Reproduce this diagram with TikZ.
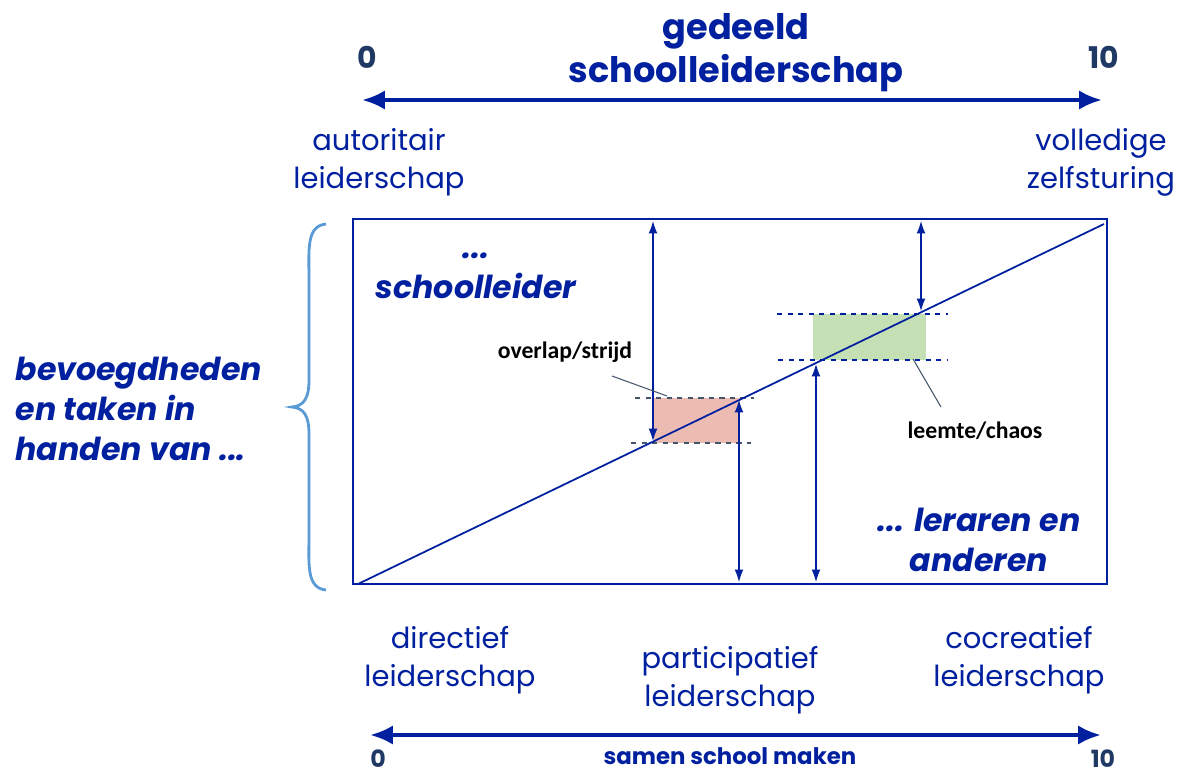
\documentclass[tikz,border=0pt]{standalone}
\usepackage{fontspec}
\setmainfont{Poppins}
\newfontfamily\calfont{Carlito}
\usepackage{tikz}
\usetikzlibrary{arrows,arrows.meta}
\definecolor{schoolblue}{RGB}{0,32,159}
\definecolor{numgray}{RGB}{31,56,100}
\definecolor{bracelight}{RGB}{91,155,213}
\definecolor{overlapred}{RGB}{236,188,178}
\definecolor{gapgreen}{RGB}{198,224,182}
\definecolor{leadergray}{RGB}{68,84,106}

\begin{document}
\begin{tikzpicture}[x=0.02cm, y=-0.02cm, thick,
  title/.style={color=schoolblue, font=\fontsize{20}{24.5}\selectfont\bfseries, align=center},
  pole/.style={color=schoolblue, font=\fontsize{16.5}{21.5}\selectfont, align=center},
  actor/.style={color=schoolblue, font=\fontsize{18}{23}\selectfont\bfseries\itshape, align=center},
  num/.style={color=numgray, font=\fontsize{17}{20}\selectfont\bfseries},
  smallnum/.style={color=numgray, font=\fontsize{13.5}{15}\selectfont\bfseries, inner sep=1pt},
  callout/.style={font=\calfont\fontsize{13.5}{16}\selectfont\bfseries},
  axisarrow/.style={{Latex[length=13pt,width=11pt]}-{Latex[length=13pt,width=11pt]}, color=schoolblue, line width=2.4pt},
  maat/.style={{Latex[length=7pt,width=5pt]}-{Latex[length=7pt,width=5pt]}, color=schoolblue, line width=0.7pt},
  guide/.style={dashed, line width=0.7pt}]
\useasboundingbox (0,0) rectangle (1181,774);

%%%%% Top axis %%%%%
\coordinate (topL) at (362,100);
\coordinate (topR) at (1102,100);
\draw[axisarrow] (topL) -- (topR);
\node[num] (top0) at (367,57) {0};
\node[num] (top10) at (1104,57) {10};
\node[title] (gedeeld) at (736,53) {gedeeld\\schoolleiderschap};
\node[pole] (autoritair) at (379,162) {autoritair\\leiderschap};
\node[pole] (zelfsturing) at (1101,162) {volledige\\zelfsturing};

%%%%% Box and diagonal %%%%%
\draw[color=schoolblue, line width=1.2pt] (353,219) rectangle (1107,584);
\fill[overlapred] (654,398) rectangle (740,443);
\fill[gapgreen] (813,314) rectangle (926,360);
\draw[guide, color=leadergray] (635,398) -- (754,398);
\draw[guide, color=leadergray] (631,443) -- (751,443);
\draw[guide, color=schoolblue] (777,314) -- (948,314);
\draw[guide, color=schoolblue] (778,360) -- (947,360);
\coordinate (ll) at (358,584);
\coordinate (ur) at (1104,224);
\draw[color=schoolblue, line width=1pt] (ll) -- (ur);
\foreach \n/\x/\ya/\yb in {a/653/221/441, b/739/400/582, c/816/364/582, d/921/221/311}{
  \coordinate (\n top) at (\x,\ya);
  \coordinate (\n bot) at (\x,\yb);
  \draw[maat] (\n top) -- (\n bot);
}

%%%%% Labels in box %%%%%
\node[actor] (leider) at (476,276) {...\\schoolleider};
\node[actor] (leraren) at (979,540) {... leraren en\\anderen};
\node[callout] (overlap) at (565,352) {overlap/strijd};
\node[callout] (leemte) at (975,431) {leemte/chaos};
\coordinate (overlapend) at (667,396);
\coordinate (leemteend) at (913,359);
\draw[color=leadergray, line width=0.6pt] (612,376) -- (overlapend);
\draw[color=leadergray, line width=0.6pt] (941,407) -- (leemteend);

%%%%% Left brace %%%%%
\node[actor, align=left, anchor=west] (handen) at (9,409) {bevoegdheden\\en taken in\\handen van ...};
\draw[color=bracelight, line width=1.6pt] (326,224) .. controls (306,226) and (309,250) .. (309,280)
  -- (309,380) .. controls (309,398) and (304,406) .. (292,407)
  .. controls (304,408) and (309,416) .. (309,434) -- (309,534)
  .. controls (309,564) and (306,588) .. (326,590);

%%%%% Bottom axis %%%%%
\node[pole] (directief) at (450,660) {directief\\leiderschap};
\node[pole] (participatief) at (730,680) {participatief\\leiderschap};
\node[pole] (cocreatief) at (1019,660) {cocreatief\\leiderschap};
\coordinate (botL) at (370,735);
\coordinate (botR) at (1101,735);
\draw[axisarrow] (botL) -- (botR);
\node[smallnum] (bot0) at (378,759) {0};
\node[smallnum] (bot10) at (1103,759) {10};
\node[color=schoolblue, font=\fontsize{13}{15}\selectfont\bfseries] (samen) at (730,756) {samen school maken};
\end{tikzpicture}
\end{document}
